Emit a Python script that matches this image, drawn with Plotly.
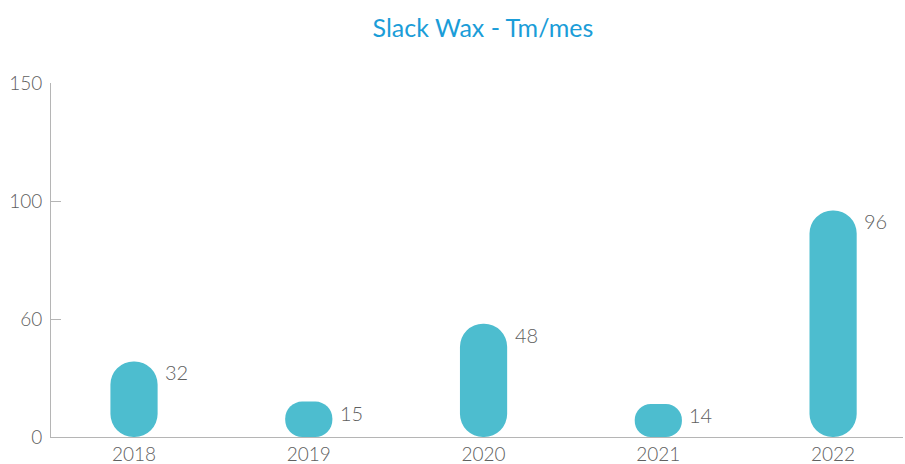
import plotly.graph_objects as go

YEARS = ["2018", "2019", "2020", "2021", "2022"]
VALUES = [32, 15, 48, 14, 96]
Y_TICK_VALUES = [0, 50, 100, 150]
Y_TICK_LABELS = ["0", "60", "100", "150"]

BAR_COLOR = "#4dbdcf"
TEXT_COLOR = "#606060"
AXIS_COLOR = "#b5b5b5"
FONT = "Lato"

fig = go.Figure()
fig.add_trace(
    go.Bar(
        x=YEARS,
        y=VALUES,
        base=[0] * len(VALUES),
        width=0.27,
        marker={"color": BAR_COLOR, "line": {"width": 0}, "cornerradius": "50%"},
        hoverinfo="skip",
        showlegend=False,
    )
)

# numeric-looking category names get read as indices by annotations, so use the index
for i, value in enumerate(VALUES):
    fig.add_annotation(
        x=i,
        y=value,
        xref="x",
        yref="y",
        text=str(value),
        showarrow=False,
        xanchor="left",
        yanchor="middle",
        xshift=29,
        yshift=-11,
        font={"family": FONT, "size": 20, "color": TEXT_COLOR, "weight": 300},
    )

fig.update_layout(
    width=905,
    height=464,
    margin={"l": 51, "r": 2, "t": 83, "b": 27},
    paper_bgcolor="white",
    plot_bgcolor="white",
    font={"family": FONT, "color": TEXT_COLOR, "weight": 300},
    title={
        "text": "Slack Wax - Tm/mes",
        "x": 0.507,
        "xref": "paper",
        "xanchor": "center",
        "y": 0.94,
        "yanchor": "middle",
        "font": {"family": FONT, "size": 25, "color": "#1b9dd8", "weight": 400},
    },
)
fig.update_xaxes(
    type="category",
    range=[-0.475, 4.40],
    showline=True,
    linecolor=AXIS_COLOR,
    linewidth=1,
    showgrid=False,
    ticks="",
    tickfont={"size": 19, "color": TEXT_COLOR, "weight": 300},
    ticklabelstandoff=0,
    automargin=False,
    fixedrange=True,
)
fig.update_yaxes(
    range=[0, 150],
    tickvals=Y_TICK_VALUES,
    ticktext=Y_TICK_LABELS,
    showline=True,
    linecolor=AXIS_COLOR,
    linewidth=1,
    showgrid=False,
    zeroline=False,
    ticks="inside",
    ticklen=10,
    tickcolor=AXIS_COLOR,
    tickfont={"size": 19, "color": TEXT_COLOR, "weight": 300},
    ticklabelstandoff=4,
    automargin=False,
    fixedrange=True,
)

fig.write_html(
    "out.html",
    config={"displayModeBar": False},
    post_script="document.body.style.margin='0';document.body.style.overflow='hidden';",
)
